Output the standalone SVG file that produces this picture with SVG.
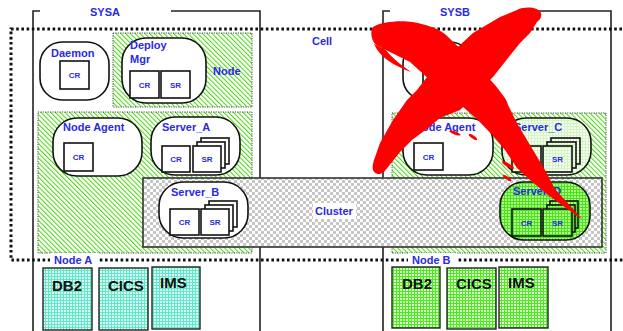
<svg xmlns="http://www.w3.org/2000/svg" width="623" height="331" viewBox="0 0 623 331">
<defs>
<pattern id="hatch" width="3.4" height="3.4" patternUnits="userSpaceOnUse" patternTransform="rotate(-45)">
<rect width="3.4" height="3.4" fill="#fff"/><rect x="0" y="0" width="1" height="3.4" fill="#44d808"/>
</pattern>
<pattern id="gridCyan" width="3" height="3" patternUnits="userSpaceOnUse">
<rect width="3" height="3" fill="#dafff5"/><rect width="3" height="1" fill="#5ee8c8"/><rect width="1" height="3" fill="#5ee8c8"/>
</pattern>
<pattern id="gridGreen" width="3" height="3" patternUnits="userSpaceOnUse">
<rect width="3" height="3" fill="#e2ffd6"/><rect width="3" height="1" fill="#44f016"/><rect width="1" height="3" fill="#44f016"/>
</pattern>
<pattern id="gridPale" width="3" height="3" patternUnits="userSpaceOnUse">
<rect width="3" height="3" fill="#f6fff2"/><rect width="3" height="1" fill="#d2f5c2"/><rect width="1" height="3" fill="#d2f5c2"/>
</pattern>
<pattern id="gridBright" width="3" height="3" patternUnits="userSpaceOnUse">
<rect width="3" height="3" fill="#a8ff80"/><rect width="3" height="1" fill="#4ee020"/><rect width="1" height="3" fill="#4ee020"/>
</pattern>
<pattern id="checker" width="6" height="6" patternUnits="userSpaceOnUse">
<rect width="6" height="6" fill="#fff"/><rect width="3" height="3" fill="#c6c6c6"/><rect x="3" y="3" width="3" height="3" fill="#c6c6c6"/>
</pattern>
</defs>
<style>
.lbl{font-family:"Liberation Sans",Arial,sans-serif;font-weight:bold;font-size:11px;fill:#2a2ae6}
.sm{font-family:"Liberation Sans",Arial,sans-serif;font-weight:bold;font-size:8px;fill:#2a2ae6;text-anchor:middle}
.db{font-family:"Liberation Sans",Arial,sans-serif;font-weight:bold;font-size:15px;fill:#111}
.sys{fill:none;stroke:#222;stroke-width:1.6}
.cell{fill:none;stroke:#111;stroke-width:3;stroke-dasharray:2.6 2.6}
.area{stroke:#222;stroke-width:0.8;stroke-dasharray:1.2 1.2;fill:url(#hatch)}
.node{stroke:#111;stroke-width:1.6;fill:#fff}
.box{stroke:#111;stroke-width:1.6;fill:#fff}
.dbox{stroke:#222;stroke-width:1.4}
.red{fill:#ff0000}
</style>
<rect width="623" height="331" fill="#fff"/>

<g id="sysa">
<path class="sys" d="M40 11 H33 V335 M171 11 H260 V335"/>
<text class="lbl" x="90" y="16">SYSA</text>
</g>
<g id="sysb">
<path class="sys" d="M390 11 H383 V335 M521 11 H611 V335"/>
<text class="lbl" x="440" y="16">SYSB</text>
</g>

<g id="cell">
<rect class="cell" x="11" y="29" width="640" height="231"/>
<text class="lbl" x="312" y="45">Cell</text>
</g>

<g id="node-dm">
<rect class="area" x="113" y="33" width="139" height="74"/>
<text class="lbl" x="213" y="75">Node</text>
</g>

<g id="daemon-a">
<rect class="node" x="40" y="42" width="69" height="58" rx="22"/>
<text class="lbl" x="51" y="57">Daemon</text>
<rect class="box" x="60" y="61" width="29" height="28"/>
<text class="sm" x="74.5" y="78">CR</text>
</g>

<g id="deploy-mgr">
<rect class="node" x="122" y="38" width="84" height="65" rx="24"/>
<text class="lbl" x="130" y="49">Deploy</text>
<text class="lbl" x="130" y="63">Mgr</text>
<rect class="box" x="130" y="71" width="29" height="27"/>
<text class="sm" x="144.5" y="87.5">CR</text>
<rect class="box" x="161" y="71" width="29" height="27"/>
<text class="sm" x="175.5" y="87.5">SR</text>
</g>

<g id="node-a">
<rect class="area" x="38" y="112" width="214" height="141"/>
<rect x="50" y="253" width="48" height="13" fill="#fff"/>
<text class="lbl" x="54" y="264">Node A</text>
</g>

<g id="node-b">
<rect class="area" x="392" y="113" width="214" height="140"/>
<rect x="408" y="253" width="48" height="13" fill="#fff"/>
<text class="lbl" x="412" y="264">Node B</text>
</g>

<g id="node-agent-a">
<rect class="node" x="53" y="118" width="89" height="58" rx="24"/>
<text class="lbl" x="63" y="131">Node Agent</text>
<rect class="box" x="64" y="143" width="29" height="28"/>
<text class="sm" x="78.5" y="160">CR</text>
</g>

<g id="server-a">
<rect class="node" x="151" y="117" width="89" height="58" rx="24"/>
<text class="lbl" x="162" y="131">Server_A</text>
<rect class="box" x="162" y="146" width="28" height="26"/>
<text class="sm" x="176" y="162">CR</text>
<rect class="box" x="201" y="138" width="28" height="26"/>
<rect class="box" x="197" y="142" width="28" height="26"/>
<rect class="box" x="193" y="146" width="28" height="26"/>
<text class="sm" x="207" y="162">SR</text>
</g>

<g id="daemon-b">
<rect class="node" x="403" y="42" width="69" height="58" rx="22"/>
<rect class="box" x="423" y="61" width="29" height="28"/>
</g>

<g id="node-agent-b">
<rect class="node" x="403" y="118" width="90" height="57" rx="24"/>
<text class="lbl" x="414" y="131">Node Agent</text>
<rect class="box" x="414" y="143" width="29" height="27"/>
<text class="sm" x="428.5" y="160">CR</text>
</g>

<g id="server-c">
<rect class="node" x="502" y="118" width="89" height="57" rx="24" style="fill:url(#gridPale)"/>
<text class="lbl" x="514" y="131">Server_C</text>
<rect class="box" x="512" y="146" width="29" height="26" style="fill:url(#gridPale)"/>
<rect class="box" x="551" y="138" width="29" height="26" style="fill:url(#gridPale)"/>
<rect class="box" x="547" y="142" width="29" height="26" style="fill:url(#gridPale)"/>
<rect class="box" x="543" y="146" width="29" height="26" style="fill:url(#gridPale)"/>
<text class="sm" x="557.5" y="162">SR</text>
</g>

<g id="cluster">
<rect x="143" y="178" width="459" height="69" fill="url(#checker)" stroke="#333" stroke-width="1.6"/>
<rect x="313" y="203" width="43" height="16" fill="#fff"/>
<text class="lbl" x="315" y="215">Cluster</text>
</g>

<g id="server-b">
<rect class="node" x="159" y="182" width="89" height="56" rx="24"/>
<text class="lbl" x="171" y="196">Server_B</text>
<rect class="box" x="170" y="209" width="29" height="26"/>
<text class="sm" x="184.5" y="225">CR</text>
<rect class="box" x="209" y="201" width="28" height="26"/>
<rect class="box" x="205" y="205" width="28" height="26"/>
<rect class="box" x="201" y="209" width="28" height="26"/>
<text class="sm" x="215" y="225">SR</text>
</g>

<g id="server-d">
<rect class="node" x="500" y="182" width="90" height="58" rx="24" style="fill:url(#gridBright)"/>
<text class="lbl" x="513" y="195">Server_D</text>
<rect class="box" x="512" y="209" width="29" height="27" style="fill:url(#gridBright)"/>
<text class="sm" x="526.5" y="225.5">CR</text>
<rect class="box" x="550" y="201" width="28" height="27" style="fill:url(#gridBright)"/>
<rect class="box" x="547" y="205" width="28" height="27" style="fill:url(#gridBright)"/>
<rect class="box" x="543" y="209" width="29" height="27" style="fill:url(#gridBright)"/>
<text class="sm" x="557.5" y="225.5">SR</text>
</g>

<g id="db-a">
<rect class="dbox" x="43" y="268" width="49" height="62" fill="url(#gridCyan)"/>
<text class="db" x="52" y="291">DB2</text>
<rect class="dbox" x="99" y="268" width="49" height="62" fill="url(#gridCyan)"/>
<text class="db" x="108" y="291">CICS</text>
<rect class="dbox" x="152" y="267" width="48" height="62" fill="url(#gridCyan)"/>
<text class="db" x="160" y="288">IMS</text>
</g>

<g id="db-b">
<rect class="dbox" x="392" y="267" width="48" height="61" fill="url(#gridGreen)"/>
<text class="db" x="402" y="289">DB2</text>
<rect class="dbox" x="447" y="268" width="49" height="61" fill="url(#gridGreen)"/>
<text class="db" x="456" y="289">CICS</text>
<rect class="dbox" x="499" y="267" width="49" height="61" fill="url(#gridGreen)"/>
<text class="db" x="508" y="288">IMS</text>
</g>

<g id="cross">
<path class="red" d="M373 27 C380 22 400 20 412 22 C425 24 438 28 446 35 L470 58 L495 85 C503 95 507 100 508 105 L518 125 L533 150 L545 170 L555 189 L582 219 L577 216 L548 195 L530 180 L517 168 L505 150 L495 138 L478 120 L455 100 L430 80 L410 62 L390 52 L376 45 C371 40 370 32 373 27 Z"/>
<path class="red" d="M374 44 C380 58 395 66 411 72 C400 64 392 58 386 50 Z"/>
<path class="red" d="M517 10 C525 6 538 7 541 13 C542 17 540 20 537 22 L530 33 L520 43 L493 77 L475 95 L460 110 L440 118 L428 128 L412 140 L400 152 L384 172 C380 175 375 175 373 170 C372 166 373 164 374 160 L380 143 L393 120 L407 100 L417 90 L427 77 L447 57 L473 33 L500 17 Z"/>
<ellipse class="red" cx="455" cy="133" rx="6" ry="1.6" transform="rotate(20 455 133)"/>
<ellipse class="red" cx="473" cy="137" rx="5" ry="1.6" transform="rotate(35 473 137)"/>
<ellipse class="red" cx="508" cy="165" rx="7" ry="1.8" transform="rotate(30 508 165)"/>
<ellipse class="red" cx="507" cy="178" rx="5" ry="1.5" transform="rotate(35 507 178)"/>
</g>
</svg>
